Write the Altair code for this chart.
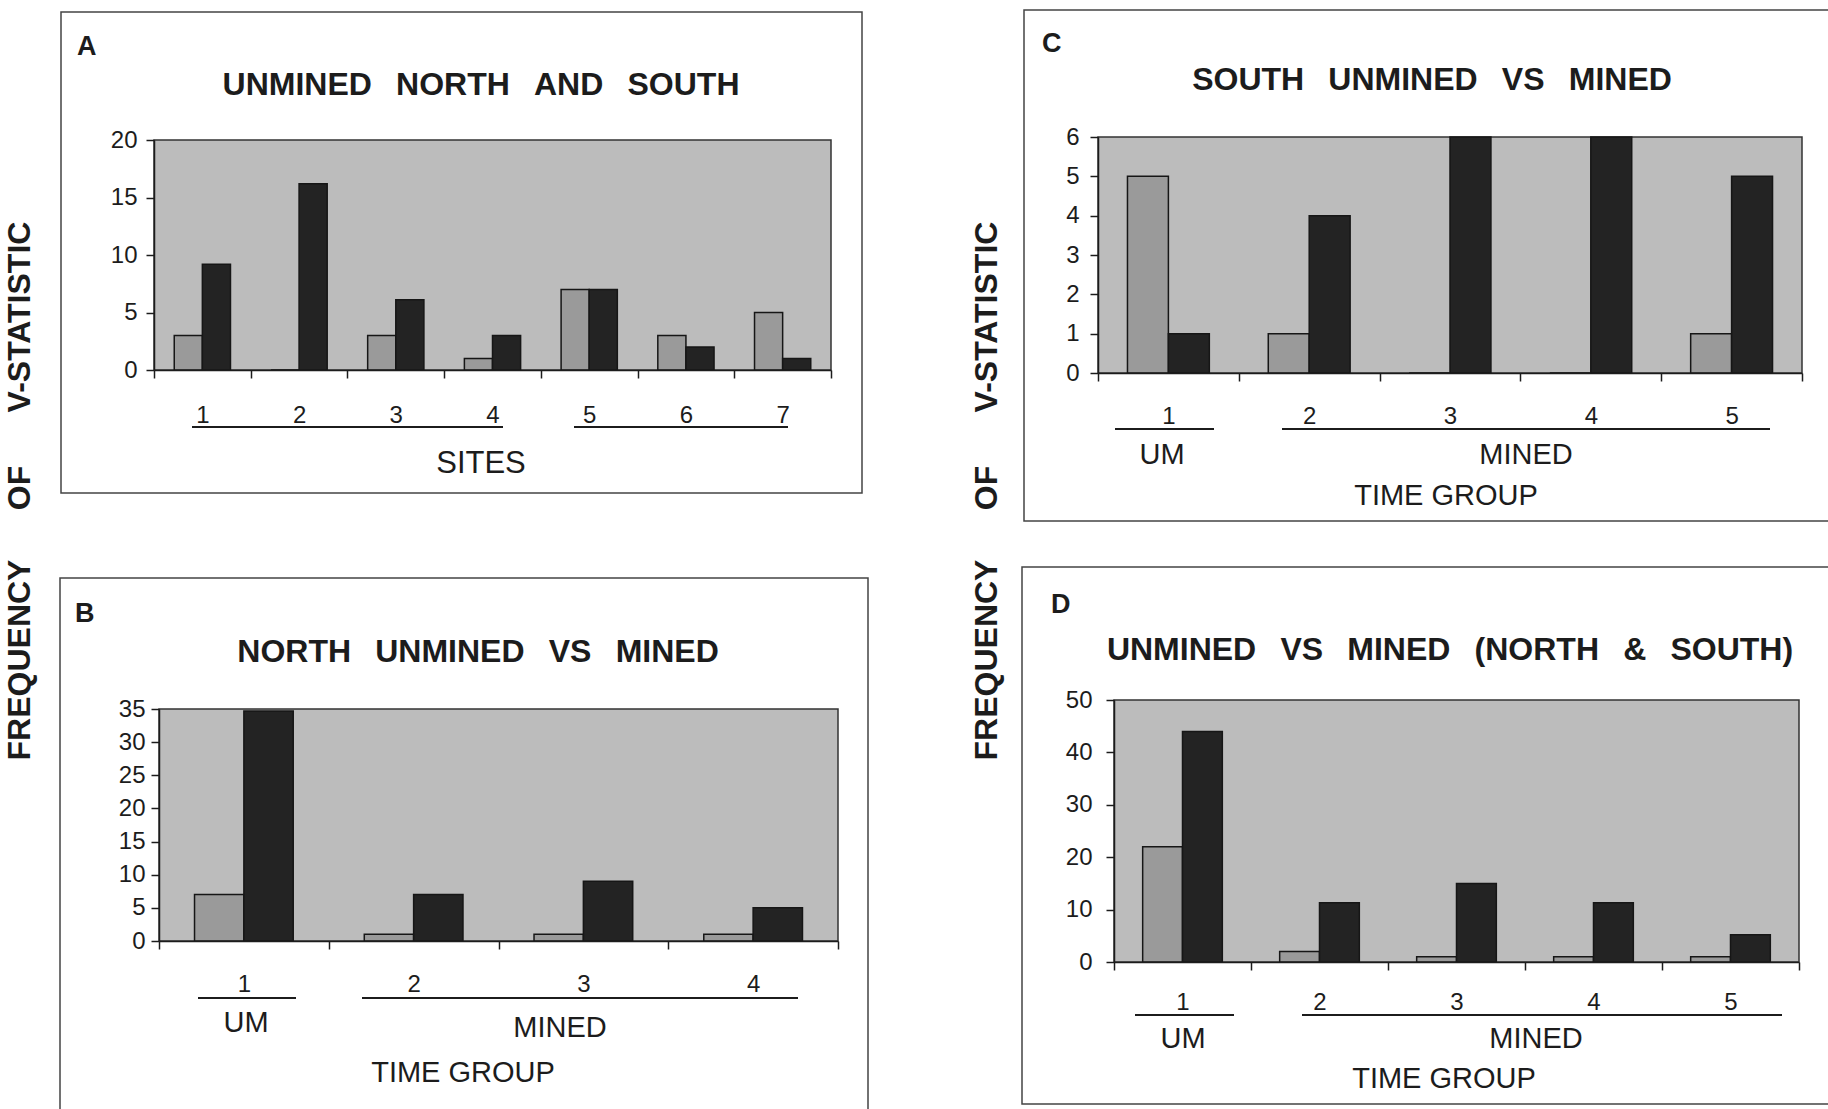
import altair as alt
import pandas as pd

# ---------------------------------------------------------------- data
site_labels = ["1", "2", "3", "4", "5", "6", "7"]
sites_first = [3, 0, 3, 1, 7, 3, 5]
sites_second = [9.2, 16.2, 6.1, 3, 7, 2, 1]

north_groups = ["1", "2", "3", "4"]
north_first = [7, 1, 1, 1]
north_second = [34.7, 7, 9, 5]

south_groups = ["1", "2", "3", "4", "5"]
south_first = [5, 1, 0, 0, 1]
south_second = [1, 4, 6, 6, 5]

both_groups = ["1", "2", "3", "4", "5"]
both_first = [22, 2, 1, 1, 1]
both_second = [44, 11.3, 15, 11.3, 5.2]

ticks_a = [0, 5, 10, 15, 20]
ticks_b = [0, 5, 10, 15, 20, 25, 30, 35]
ticks_c = [0, 1, 2, 3, 4, 5, 6]
ticks_d = [0, 10, 20, 30, 40, 50]

# ---------------------------------------------------------------- style
W, H = 1828, 1109
SANS = "'Liberation Sans', Arial, Helvetica, sans-serif"
INK = "#1c1c1c"
PLOT_BG = "#bcbcbc"
FIRST_FILL = "#9a9a9a"
SECOND_FILL = "#232323"
SERIES = ["series 1", "series 2"]

blank = pd.DataFrame({"k": [0]})


def text(txt, x, y, size, weight="normal", align="center", angle=0, baseline="alphabetic"):
    return alt.Chart(blank).mark_text(
        text=txt, align=align, baseline=baseline, fontSize=size, fontWeight=weight,
        font=SANS, angle=angle, color=INK,
    ).encode(x=alt.value(x), y=alt.value(y))


def hline(x1, x2, y):
    return alt.Chart(blank).mark_rule(color=INK, strokeWidth=2).encode(
        x=alt.value(x1), x2=alt.value(x2), y=alt.value(y))


def box(x1, x2, y1, y2, fill=None, stroke="#444", width=1.5):
    props = dict(stroke=stroke, strokeWidth=width)
    if fill is None:
        props["fillOpacity"] = 0
        props["fill"] = "white"
    else:
        props["fill"] = fill
    return alt.Chart(blank).mark_rect(**props).encode(
        x=alt.value(x1), x2=alt.value(x2), y=alt.value(y1), y2=alt.value(y2))


def bars(cats, first, second, ymax, yticks, plot, ylab_pad, xlab_pad):
    x0, x1, yt, yb = plot
    df = pd.DataFrame({
        "group": cats * 2,
        "series": [SERIES[0]] * len(cats) + [SERIES[1]] * len(cats),
        "value": list(first) + list(second),
    })
    axis_style = dict(domainColor=INK, domainWidth=1.5, tickColor=INK, tickWidth=1.5,
                      labelColor=INK, labelFont=SANS, labelFontSize=24, title=None,
                      grid=False, zindex=1)
    return alt.Chart(df).mark_bar(stroke="#161616", strokeWidth=1.5).encode(
        x=alt.X("group:N", sort=cats,
                scale=alt.Scale(domain=cats, range=[x0, x1], paddingInner=0, paddingOuter=0),
                axis=alt.Axis(orient="bottom", offset=yb - H, tickBand="extent", tickSize=8,
                              labelPadding=xlab_pad, labelAngle=0, **axis_style)),
        xOffset=alt.XOffset("series:N", sort=SERIES,
                            scale=alt.Scale(domain=SERIES, paddingInner=0, paddingOuter=0.72)),
        y=alt.Y("value:Q",
                scale=alt.Scale(domain=[0, ymax], range=[yb, yt], nice=False, zero=True),
                axis=alt.Axis(orient="left", offset=-x0, values=yticks, tickSize=8,
                              labelPadding=ylab_pad, **axis_style)),
        fill=alt.Fill("series:N", scale=alt.Scale(domain=SERIES, range=[FIRST_FILL, SECOND_FILL]),
                      legend=None),
    )


GAP = "\u00a0\u00a0\u2009"

# plot rectangles: left, right, top, bottom
plot_a = (154, 831, 140, 370)
plot_b = (159, 838, 709, 941)
plot_c = (1098, 1802, 137, 373)
plot_d = (1114, 1799, 700, 962)

layers = [
    # panel frames
    box(61, 862, 12, 493),
    box(60, 868, 578, 1130),
    box(1024, 1850, 10, 521),
    box(1022, 1850, 567, 1104),
    # plot backgrounds
    box(plot_a[0], plot_a[1], plot_a[2], plot_a[3], fill=PLOT_BG, stroke="#333"),
    box(plot_b[0], plot_b[1], plot_b[2], plot_b[3], fill=PLOT_BG, stroke="#333"),
    box(plot_c[0], plot_c[1], plot_c[2], plot_c[3], fill=PLOT_BG, stroke="#333"),
    box(plot_d[0], plot_d[1], plot_d[2], plot_d[3], fill=PLOT_BG, stroke="#333"),
    # bars
    bars(site_labels, sites_first, sites_second, 20, ticks_a, plot_a, 9, 25),
    bars(north_groups, north_first, north_second, 35, ticks_b, plot_b, 6, 23),
    bars(south_groups, south_first, south_second, 6, ticks_c, plot_c, 11, 23),
    bars(both_groups, both_first, both_second, 50, ticks_d, plot_d, 14, 20),
    # panel letters
    text("A", 77, 55, 27, weight="bold", align="left"),
    text("B", 75, 622, 27, weight="bold", align="left"),
    text("C", 1042, 52, 27, weight="bold", align="left"),
    text("D", 1051, 613, 27, weight="bold", align="left"),
    # panel titles
    text(GAP.join(["UNMINED", "NORTH", "AND", "SOUTH"]), 481, 95, 32, weight="bold"),
    text(GAP.join(["NORTH", "UNMINED", "VS", "MINED"]), 478, 662, 32, weight="bold"),
    text(GAP.join(["SOUTH", "UNMINED", "VS", "MINED"]), 1432, 90, 32, weight="bold"),
    text(GAP.join(["UNMINED", "VS", "MINED", "(NORTH", "&", "SOUTH)"]), 1450, 660, 32, weight="bold"),
    # x-axis group captions
    text("SITES", 481, 473, 31),
    text("UM", 246, 1032, 29), text("MINED", 560, 1037, 29), text("TIME GROUP", 463, 1082, 29),
    text("UM", 1162, 464, 29), text("MINED", 1526, 464, 29), text("TIME GROUP", 1446, 505, 29),
    text("UM", 1183, 1048, 29), text("MINED", 1536, 1048, 29), text("TIME GROUP", 1444, 1088, 29),
    # group underlines
    hline(192, 503, 427), hline(574, 788, 427),
    hline(198, 296, 998), hline(362, 798, 998),
    hline(1115, 1214, 429), hline(1282, 1770, 429),
    hline(1135, 1234, 1015), hline(1302, 1782, 1015),
]

# shared vertical axis caption, once per column
for cx in (20, 987):
    layers += [
        text("V-STATISTIC", cx, 317, 32, weight="bold", angle=270, baseline="middle"),
        text("OF", cx, 488, 32, weight="bold", angle=270, baseline="middle"),
        text("FREQUENCY", cx, 660, 32, weight="bold", angle=270, baseline="middle"),
    ]

chart = alt.layer(*layers).properties(
    width=W, height=H, padding=0,
    autosize=alt.AutoSizeParams(type="none"),
).resolve_scale(
    x="independent", y="independent", xOffset="independent",
).configure_view(stroke=None, fill="white")

chart.save("out.html", embed_options={"renderer": "svg", "actions": False})
